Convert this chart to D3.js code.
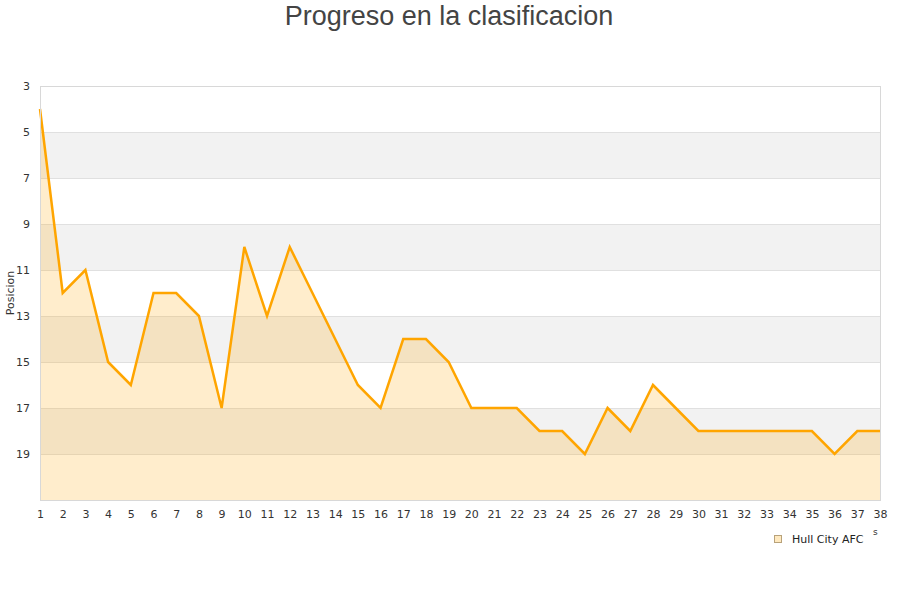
<!DOCTYPE html>
<html><head><meta charset="utf-8">
<script src="https://cdn.jsdelivr.net/npm/d3@7"></script>
<style>body{margin:0;background:#fff}svg{display:block}</style>
</head><body>
<script>
const rounds = d3.range(1, 39);
const positions = [4,12,11,15,16,12,12,13,17,10,13,10,12,14,16,17,14,14,15,17,17,17,18,18,19,17,18,16,17,18,18,18,18,18,18,19,18,18];
const yTicks = [3,5,7,9,11,13,15,17,19];
const seriesName = "Hull City AFC";
const title = "Progreso en la clasificacion";
const yTitle = "Posicion";

const W = 900, H = 600;
const svg = d3.select("body").append("svg").attr("width", W).attr("height", H);
const x = d3.scaleLinear().domain([1, 38]).range([40, 880]);
const y = d3.scaleLinear().domain([3, 21]).range([86, 500]);

// bands
const bands = [5,9,13,17];
svg.append("g").selectAll("rect").data(bands).join("rect")
  .attr("x", x(1)).attr("width", x(38)-x(1))
  .attr("y", d => y(d)).attr("height", d => y(d+2)-y(d))
  .attr("fill", "#f2f2f2");
// grid lines
svg.append("g").selectAll("line").data([5,7,9,11,13,15,17,19]).join("line")
  .attr("x1", x(1)).attr("x2", x(38))
  .attr("y1", d => y(d)+0.5).attr("y2", d => y(d)+0.5)
  .attr("stroke", "#e0e0e0");

const data = rounds.map((r,i) => ({r, p: positions[i]}));
svg.append("path").datum(data)
  .attr("d", d3.area().x(d => x(d.r)).y0(y(21)).y1(d => y(d.p)))
  .attr("fill", "rgba(255,165,0,0.2)");
svg.append("path").datum(data)
  .attr("d", d3.line().x(d => x(d.r)).y(d => y(d.p)))
  .attr("fill", "none").attr("stroke", "#ffa500").attr("stroke-width", 2.5)
  .attr("stroke-linejoin", "miter");

// frame
svg.append("rect").attr("x", x(1)+0.5).attr("y", y(3)+0.5)
  .attr("width", x(38)-x(1)).attr("height", y(21)-y(3))
  .attr("fill", "none").attr("stroke", "#d8d8d8");

const font = "'DejaVu Sans', Verdana, sans-serif";
// y axis
const ya = svg.append("g").attr("transform", `translate(${x(1)},0)`)
  .call(d3.axisLeft(y).tickValues(yTicks).tickSize(0).tickPadding(10));
ya.select(".domain").remove();
ya.selectAll("text").attr("font-family", font).attr("font-size", 11).attr("fill", "#333")
  .attr("dy", "0.32em");
// x axis
const xa = svg.append("g").attr("transform", `translate(0,${y(21)})`)
  .call(d3.axisBottom(x).tickValues(rounds).tickFormat(d3.format("d")).tickSize(0).tickPadding(10));
xa.select(".domain").remove();
xa.selectAll("text").attr("font-family", font).attr("font-size", 11).attr("fill", "#333");

svg.append("text").attr("transform", "translate(14,293) rotate(-90)")
  .attr("text-anchor", "middle").attr("font-family", font).attr("font-size", 11).attr("fill", "#333")
  .text(yTitle);
svg.append("text").attr("x", 449).attr("y", 25).attr("text-anchor", "middle")
  .attr("font-family", "'Liberation Sans', Arial, sans-serif").attr("font-size", 27).attr("fill", "#444")
  .text(title);
svg.append("text").attr("x", 873).attr("y", 535).attr("font-family", font).attr("font-size", 9).attr("fill", "#333").text("s");

// legend
svg.append("rect").attr("x", 774.5).attr("y", 535.5).attr("width", 7).attr("height", 7)
  .attr("fill", "#ffe9bf").attr("stroke", "#b8a27a");
svg.append("text").attr("x", 792).attr("y", 543).attr("font-family", font).attr("font-size", 11).attr("fill", "#222")
  .text(seriesName);
</script>
</body></html>
